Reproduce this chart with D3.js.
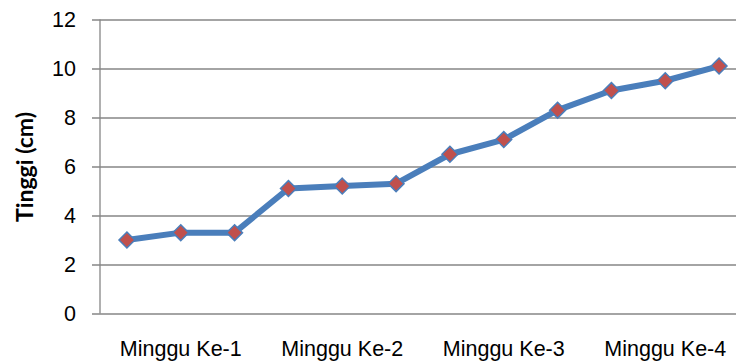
<!DOCTYPE html>
<html>
<head>
<meta charset="utf-8">
<script src="https://cdn.jsdelivr.net/npm/d3@7"></script>
<style>
  html, body { margin: 0; padding: 0; background: #fff; }
  svg { display: block; font-family: Lato, "Open Sans", sans-serif; }
</style>
</head>
<body>
<svg id="chart" width="736" height="363"></svg>
<script>
// Weekly plant height measurements (three per week)
const categories = ["", "Minggu Ke-1", "", "", "Minggu Ke-2", "", "", "Minggu Ke-3", "", "", "Minggu Ke-4", ""];
const heights = [3.0, 3.3, 3.3, 5.1, 5.2, 5.3, 6.5, 7.1, 8.3, 9.1, 9.5, 10.1];
const yTicks = [0, 2, 4, 6, 8, 10, 12];
const yTitle = "Tinggi (cm)";

const svg = d3.select("#chart");
const plot = { left: 100, right: 746, top: 19.5, bottom: 313.5 };

const idx = d3.range(categories.length);
const x = d3.scaleBand().domain(idx).range([plot.left, plot.right]);
const y = d3.scaleLinear().domain([0, 12]).range([plot.bottom, plot.top]);

// horizontal gridlines with left tick marks
const yAxis = d3.axisLeft(y).tickValues(yTicks).tickSize(plot.right - plot.left + 8).tickPadding(16).tickFormat(d3.format("d"));
const gy = svg.append("g").attr("transform", `translate(${plot.right},0)`).call(yAxis);
gy.select(".domain").remove();
gy.selectAll(".tick line").attr("stroke", "#868686").attr("stroke-width", 1.3);
gy.selectAll(".tick text").attr("font-size", 21.5).attr("fill", "#000");

// vertical axis line
svg.append("line")
  .attr("x1", plot.left).attr("x2", plot.left)
  .attr("y1", plot.top).attr("y2", plot.bottom)
  .attr("stroke", "#868686").attr("stroke-width", 1.3);

// category labels
const xAxis = d3.axisBottom(x).tickSize(0).tickPadding(27).tickFormat(i => categories[i]);
const gx = svg.append("g").attr("transform", `translate(0,${plot.bottom})`).call(xAxis);
gx.select(".domain").remove();
gx.selectAll(".tick text").attr("font-size", 21.5).attr("fill", "#000");

// axis title
svg.append("text")
  .attr("transform", `translate(33,167) rotate(-90)`)
  .attr("text-anchor", "middle")
  .attr("font-size", 23).attr("font-weight", "bold").attr("fill", "#000")
  .text(yTitle);

// series line
const line = d3.line().x((d, i) => x(i) + x.bandwidth() / 2).y(d => y(d));
svg.append("path").datum(heights)
  .attr("d", line)
  .attr("fill", "none").attr("stroke", "#4a7ebb").attr("stroke-width", 6)
  .attr("stroke-linejoin", "round");

// diamond markers
svg.append("g").selectAll("path").data(heights).join("path")
  .attr("transform", (d, i) => `translate(${x(i) + x.bandwidth() / 2},${y(d)})`)
  .attr("d", d3.symbol(d3.symbolDiamond2, 160))
  .attr("fill", "#c0504d").attr("stroke", "#4a7ebb").attr("stroke-width", 1.5);
</script>
</body>
</html>
